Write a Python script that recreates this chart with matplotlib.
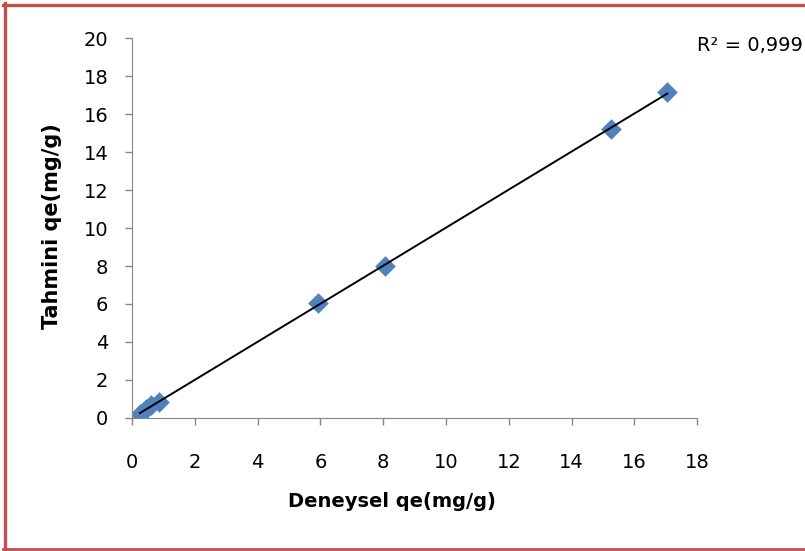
import numpy as np
import matplotlib.pyplot as plt
from matplotlib.lines import Line2D

plt.rcParams['font.family'] = ['DejaVu Sans']

# experimental vs predicted adsorption capacity
deneysel = [0.25, 0.45, 0.62, 0.85, 5.93, 8.06, 15.26, 17.05]
tahmini = [0.22, 0.45, 0.68, 0.82, 6.05, 8.0, 15.2, 17.15]
r2_text = "R² = 0,999"

fig = plt.figure(figsize=(8.05, 5.51), dpi=100)
ax = fig.add_axes([0.164, 0.2414, 0.702, 0.6896])

ax.scatter(deneysel, tahmini, marker='D', s=110, color='#4F81BD', zorder=2, linewidths=0)

# linear trendline over the data range
k, b = np.polyfit(deneysel, tahmini, 1)
xs = np.array([min(deneysel), max(deneysel)])
ax.plot(xs, k * xs + b, color='black', lw=1.4, zorder=3)

ax.set_xlim(0, 18)
ax.set_ylim(0, 20)
ax.set_xticks(np.arange(0, 19, 2))
ax.set_yticks(np.arange(0, 21, 2))
ax.tick_params(labelsize=14, length=5, color='#868686', width=1)
ax.tick_params(axis='x', pad=20)
ax.tick_params(axis='y', pad=12)
for side in ['top', 'right']:
    ax.spines[side].set_visible(False)
for side in ['left', 'bottom']:
    ax.spines[side].set_color('#868686')

ax.set_xlabel("Deneysel qe(mg/g)", fontsize=14, fontweight='bold', va='center')
ax.set_ylabel("Tahmini qe(mg/g)", fontsize=15, fontweight='bold', va='center')
ax.xaxis.set_label_coords(0.46, -0.221)
ax.yaxis.set_label_coords(-0.142, 0.505)

fig.text(0.866, 0.918, r2_text, fontsize=14, va='center', ha='left')

# red frame (left, top, bottom)
red = '#C0504D'
fig.add_artist(Line2D([4.5 / 805, 4.5 / 805], [1 - 3 / 551, 1 - 550 / 551], transform=fig.transFigure, color=red, lw=2.4))
fig.add_artist(Line2D([3 / 805, 1], [1 - 4.5 / 551, 1 - 4.5 / 551], transform=fig.transFigure, color=red, lw=2.4))
fig.add_artist(Line2D([3 / 805, 1], [1 - 549 / 551, 1 - 549 / 551], transform=fig.transFigure, color=red, lw=2.0))

fig.savefig("out.png", dpi=100)
